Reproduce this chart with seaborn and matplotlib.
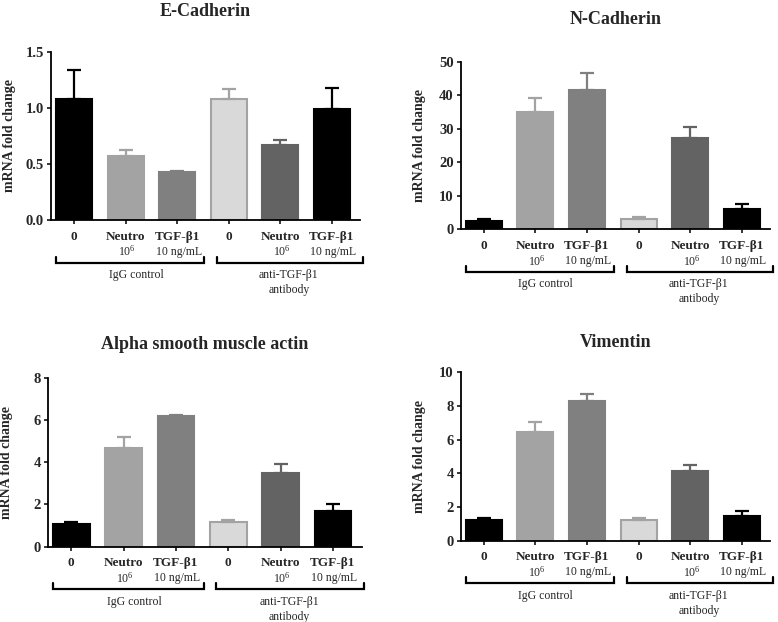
import matplotlib
matplotlib.use('Agg')
import matplotlib.pyplot as plt
import matplotlib.transforms as mtransforms
import pandas as pd
import seaborn as sns

# ---------------------------
# Data
# ---------------------------
conditions = ["IgG_0", "IgG_Neutro", "IgG_TGF", "anti_0", "anti_Neutro", "anti_TGF"]
top_labels = ["0", "Neutro", "TGF-β1", "0", "Neutro", "TGF-β1"]
sub_labels = ["", "10$^6$", "10 ng/mL", "", "10$^6$", "10 ng/mL"]
group_labels = ["IgG control", "anti-TGF-β1\nantibody"]

ecad_mean = [1.08, 0.57, 0.43, 1.08, 0.67, 0.99]
ecad_sem = [0.26, 0.05, 0.01, 0.09, 0.04, 0.19]
ncad_mean = [2.6, 35.1, 41.5, 3.0, 27.3, 6.0]
ncad_sem = [0.5, 4.0, 5.2, 0.8, 3.1, 1.4]
asma_mean = [1.06, 4.69, 6.18, 1.15, 3.50, 1.69]
asma_sem = [0.12, 0.48, 0.07, 0.11, 0.43, 0.33]
vim_mean = [1.21, 6.46, 8.28, 1.23, 4.16, 1.49]
vim_sem = [0.12, 0.57, 0.43, 0.12, 0.34, 0.27]

fill_colors = ["#000000", "#a3a3a3", "#808080", "#d9d9d9", "#636363", "#000000"]
edge_colors = ["#000000", "#a3a3a3", "#808080", "#a3a3a3", "#636363", "#000000"]

# ---------------------------
# Style
# ---------------------------
sns.set_style("ticks")
plt.rcParams['font.family'] = ['Liberation Serif', 'DejaVu Serif']
plt.rcParams['mathtext.fontset'] = 'custom'
plt.rcParams['mathtext.rm'] = 'Liberation Serif'
plt.rcParams['mathtext.it'] = 'Liberation Serif:italic'
plt.rcParams['mathtext.bf'] = 'Liberation Serif:bold'

W, H = 778, 622
fig = plt.figure(figsize=(W / 100, H / 100), dpi=100)

# title, mean, sem, yticks, ytick labels, (left, right, top, bottom) px, title pad pt
panels = [
    ("E-Cadherin", ecad_mean, ecad_sem, [0, 0.5, 1.0, 1.5], ["0.0", "0.5", "1.0", "1.5"],
     (51, 360, 51.7, 220), 26),
    ("N-Cadherin", ncad_mean, ncad_sem, [0, 10, 20, 30, 40, 50], None,
     (460.7, 770, 61.7, 229.3), 27.5),
    ("Alpha smooth muscle actin", asma_mean, asma_sem, [0, 2, 4, 6, 8], None,
     (47.7, 361.7, 377.7, 546.7), 20.5),
    ("Vimentin", vim_mean, vim_sem, [0, 2, 4, 6, 8, 10], None,
     (460.7, 770, 372.3, 540.7), 18.5),
]

bracket_spans = [(-0.35, 2.53), (2.77, 5.6)]
group_x = [1.2, 4.17]

for title, mean, sem, yticks, ylabels, box, tpad in panels:
    left, right, top, bottom = box
    wpx, hpx = right - left, bottom - top
    ax = fig.add_axes([left / W, 1 - bottom / H, wpx / W, hpx / H])

    df = pd.DataFrame({"condition": conditions, "value": mean})
    sns.barplot(
        data=df, x="condition", y="value", hue="condition",
        order=conditions, hue_order=conditions,
        palette=dict(zip(conditions, fill_colors)),
        width=0.7, errorbar=None, legend=False, saturation=1, ax=ax,
    )
    for patch, ec in zip(ax.patches, edge_colors):
        patch.set_edgecolor(ec)
        patch.set_linewidth(1.5)

    for i, (m, s) in enumerate(zip(mean, sem)):
        ax.errorbar(i, m, yerr=[[0], [s]], color=edge_colors[i], capsize=4.7,
                    elinewidth=1.6, capthick=1.6, zorder=1)

    ax.set_xlim(-0.45, 5.55)
    ax.set_ylim(yticks[0], yticks[-1])
    ax.set_yticks(yticks)
    if ylabels is not None:
        ax.set_yticklabels(ylabels)
    ax.set_xticks(range(len(conditions)))
    ax.set_xticklabels([])
    ax.set_xlabel("")
    ax.set_ylabel("mRNA fold change", fontsize=10, fontweight="bold")
    ax.yaxis.set_label_coords(-35 / wpx, 0.5)
    ax.tick_params(axis="y", length=3, width=1.3, pad=2, labelsize=10.5)
    ax.tick_params(axis="x", length=3, width=1.3)
    for lab in ax.get_yticklabels():
        lab.set_fontweight("bold")
    sns.despine(ax=ax)
    for sp in ("left", "bottom"):
        ax.spines[sp].set_linewidth(1.3)
        ax.spines[sp].set_color("black")

    ax.set_title(title, fontsize=13, fontweight="bold", pad=tpad)

    trans = mtransforms.blended_transform_factory(ax.transData, ax.transAxes)
    for i in range(len(conditions)):
        ax.text(i, -16.7 / hpx, top_labels[i], transform=trans, ha="center", va="center",
                fontsize=9.5, fontweight="bold")
        if sub_labels[i]:
            ax.text(i + 0.03, -31.7 / hpx, sub_labels[i], transform=trans, ha="center",
                    va="center", fontsize=8.5)

    for (x0, x1), gx, glab in zip(bracket_spans, group_x, group_labels):
        ax.plot([x0, x0, x1, x1], [-36.7 / hpx, -42.7 / hpx, -42.7 / hpx, -36.7 / hpx],
                transform=trans, color="black", lw=1.6, clip_on=False,
                solid_joinstyle="miter")
        ax.text(gx, -49 / hpx, glab, transform=trans, ha="center", va="top",
                fontsize=8.5, linespacing=1.35)

fig.savefig("out.png", dpi=100)
plt.close(fig)
